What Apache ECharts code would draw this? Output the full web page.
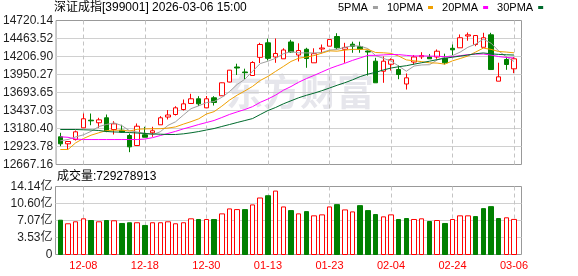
<!DOCTYPE html>
<html><head><meta charset="utf-8">
<script src="https://cdn.jsdelivr.net/npm/echarts@6/dist/echarts.min.js"></script>
<style>html,body{margin:0;padding:0;background:#fff}#c{width:578px;height:276px}</style>
</head><body><div id="c"></div>
<script>
const dates = ['12-03','12-04','12-05','12-08','12-09','12-10','12-11','12-12','12-15','12-16','12-17','12-18','12-19','12-22','12-23','12-24','12-25','12-26','12-29','12-30','12-31',
'01-05','01-06','01-07','01-08','01-09','01-12','01-13','01-14','01-15','01-16','01-19','01-20','01-21','01-22','01-23','01-26','01-27','01-28','01-29','01-30',
'02-02','02-03','02-04','02-05','02-06','02-09','02-10','02-11','02-12','02-13','02-24','02-25','02-26','02-27',
'03-02','03-03','03-04','03-05','03-06'];
const opens  = [13062,12962,13023,13190,13299,13262,13333,13166,13156,13081,12938,13091,13119,13233,13344,13380,13451,13537,13604,13475,13618,13647,13843,14057,13986,13936,14195,14402,14200,14174,14414,14228,14310,14117,14314,14354,14492,14310,14382,14349,14285,14140,13997,14097,14022,13815,14128,14203,14200,14200,14181,14324,14331,14499,14378,14338,14516,13855,14164,14031];
const closes = [12962,12995,13133,13319,13290,13304,13142,13247,13128,12919,13213,13056,13148,13333,13373,13475,13532,13604,13532,13604,13551,13832,14012,14043,13976,14121,14378,14181,14250,14300,14271,14292,14178,14247,14328,14449,14331,14336,14352,14311,14271,13832,14140,14160,13950,13903,14200,14221,14174,14282,14117,14302,14474,14516,14506,14474,14021,13917,14093,14174];
const lows   = [12928,12881,13009,13190,13227,13190,13128,13095,13119,12843,12938,13056,13062,13233,13309,13366,13437,13530,13501,13475,13508,13644,13840,13943,13886,13936,14114,14150,14117,14174,14260,14136,14046,14117,14250,14354,14317,14117,14260,14260,13935,13832,13832,14007,13883,13736,14093,14171,14174,14174,14093,14228,14331,14432,14354,14338,14014,13855,14017,13969];
const highs  = [13119,12998,13152,13394,13394,13333,13380,13284,13233,13109,13252,13205,13205,13356,13444,13498,13594,13675,13641,13644,13641,13836,14015,14104,14033,14140,14402,14461,14464,14324,14445,14395,14331,14324,14378,14449,14539,14402,14418,14418,14292,14188,14207,14181,14081,13965,14228,14268,14243,14307,14247,14378,14521,14549,14506,14545,14545,14118,14203,14200];
const ma5  = [13005,13024,13060,13090,13139.8,13208.2,13237.6,13260.4,13222.2,13148,13129.8,13112.6,13092.8,13133.8,13224.6,13277,13372.2,13463.4,13503.2,13549.4,13564.6,13624.6,13706.2,13808.4,13882.8,13996.8,14106,14139.8,14181.2,14246,14276,14258.8,14258.2,14257.6,14263.2,14298.8,14306.6,14338.2,14359.2,14355.8,14320.2,14220.4,14181.2,14142.8,14070.6,13997,14070.6,14086.8,14089.6,14156,14198.8,14219.2,14269.8,14338.2,14383,14454.4,14398.2,14286.8,14202.2,14135.8];
const ma10 = [12881,12881,12976,13037,13085,13119,13151,13156,13156,13143.9,13169,13175.1,13176.6,13178,13186.3,13203.4,13242.4,13278.1,13318.5,13387,13420.8,13498.4,13584.8,13655.8,13716.1,13780.7,13865.3,13923,13994.8,14064.4,14136.4,14182.4,14199,14219.4,14254.6,14287.4,14282.7,14298.2,14308.4,14309.5,14309.5,14263.5,14259.7,14251,14213.2,14158.6,14145.5,14134,14116.2,14113.3,14097.9,14144.9,14178.3,14213.9,14269.5,14326.6,14308.7,14278.3,14270.2,14259.4];
const ma20 = [13062,13055,13030,13023,13023,13023,13023,13023,13023,13023,13023,13030,13050,13080,13110,13140,13175,13205,13237,13265.5,13294.9,13336.8,13380.7,13416.9,13451.2,13492.1,13553.9,13600.6,13656.7,13725.7,13778.6,13840.4,13891.9,13937.6,13985.4,14034.1,14074,14110.6,14151.6,14187,14223,14223,14229.4,14235.2,14233.9,14223,14214.1,14216.1,14212.3,14211.4,14203.7,14204.2,14219,14232.5,14241.4,14242.6,14227.1,14206.2,14193.2,14186.4];
const ma30 = [13166,13166,13166,13162,13159,13152,13138,13131,13128,13123,13116,13109,13102,13099,13095,13095,13104,13119,13137,13159,13180,13209,13237,13266,13294,13322,13380,13437,13480,13531.8,13575.4,13618.6,13653.5,13684.4,13719,13757.2,13796.8,13833.1,13873.9,13920.3,13955.6,13981.4,14014.5,14042.1,14061.3,14075.6,14097.8,14118.4,14139.8,14162.4,14181.3,14196.9,14212.3,14228.1,14245.8,14257.5,14245.6,14236.8,14231.6,14227.4];
const volumes = [713000000,639000000,680000000,742000000,707000000,680000000,707000000,701000000,645000000,660000000,660000000,604000000,660000000,660000000,680000000,639000000,660000000,742000000,728000000,728000000,728000000,845000000,948000000,934000000,934000000,1031000000,1175000000,1222000000,1319000000,989000000,913000000,845000000,892000000,804000000,824000000,989000000,1037000000,927000000,886000000,1016000000,913000000,831000000,783000000,824000000,728000000,748000000,728000000,742000000,686000000,707000000,645000000,728000000,804000000,804000000,789000000,954000000,995000000,748000000,763000000,729278913];
const priceTicks = ['12667.16','12923.78','13180.40','13437.03','13693.65','13950.27','14206.90','14463.52','14720.14'];
const volTicks = ['0','3.53亿','7.07亿','10.60亿','14.14亿'];
const dateLabels = ['12-08','12-18','12-30','01-13','01-23','02-04','02-24','03-06'];
const priceMin = 12667.16, priceMax = 14720.14, volMax = 1414000000;

const RED = '#ff0000', GREEN = '#008000';
const latin = "'Liberation Sans','Noto Sans CJK SC'";
const narrow = "'Liberation Sans Narrow','Liberation Sans'";

const candleData = dates.map((d, i) => [opens[i], closes[i], lows[i], highs[i]]);
// volume columns drawn as pixel-snapped boxes from 0 to the volume (hollow red when close rose, green when it fell)
const volData = volumes.map((v, i) => {
  const up = i === 0 ? closes[i] >= opens[i] : closes[i] >= closes[i - 1];
  return up ? [0, v, 0, v] : [v, 0, 0, v];
});
const dashed = { show: true, interval: (i, v) => dateLabels.includes(v), alignWithLabel: true,
  lineStyle: { color: '#c4c4c4', type: [4, 3], width: 1 } };
const boxStyle = { color: '#fff', color0: GREEN, borderColor: RED, borderColor0: GREEN, borderWidth: 1 };

const chart = echarts.init(document.getElementById('c'), null, { renderer: 'canvas' });
chart.setOption({
  animation: false,
  backgroundColor: '#fff',
  title: [
    { text: '深证成指[399001] 2026-03-06 15:00', left: 54, top: 2, padding: 0,
      textStyle: { fontSize: 12, fontWeight: 'normal', color: '#000', fontFamily: latin } },
    { text: '成交量:' + volumes[volumes.length - 1], left: 57, top: 171, padding: 0,
      textStyle: { fontSize: 12, fontWeight: 'normal', color: '#000', fontFamily: latin } }
  ],
  legend: {
    left: 338, top: 2, padding: 0, itemWidth: 5, itemHeight: 3, itemGap: 9, align: 'right', icon: 'rect',
    textStyle: { fontSize: 11, color: '#000', fontFamily: narrow },
    data: ['5PMA', '10PMA', '20PMA', '30PMA']
  },
  graphic: [{ type: 'text', left: 226, top: 73, z: 0, silent: true,
    style: { text: '东方财富', font: 'bold 37px "Noto Sans CJK SC"', fill: '#e6e6ec' } }],
  grid: [
    { left: 55.5, top: 20.5, width: 466, height: 144, show: true, borderColor: '#999', borderWidth: 1, backgroundColor: 'transparent' },
    { left: 56.46, top: 20.5, width: 461.4, height: 144 },
    { left: 55.5, top: 186.5, width: 466, height: 68, show: true, borderColor: '#999', borderWidth: 1, backgroundColor: 'transparent' },
    { left: 56.46, top: 186.5, width: 461.4, height: 68 }
  ],
  xAxis: [
    { gridIndex: 0, type: 'value', min: 0, max: 1, show: false },
    { gridIndex: 1, type: 'category', data: dates, boundaryGap: true,
      axisLine: { show: false }, axisTick: { show: false }, axisLabel: { show: false }, splitLine: dashed },
    { gridIndex: 2, type: 'value', min: 0, max: 1, show: false },
    { gridIndex: 3, type: 'category', data: dates, boundaryGap: true,
      axisLine: { show: false }, axisTick: { show: false }, splitLine: dashed,
      axisLabel: { interval: (i, v) => dateLabels.includes(v), color: RED, fontSize: 11, fontFamily: narrow, margin: 6 } }
  ],
  yAxis: [
    { gridIndex: 0, type: 'value', min: 0, max: 8, interval: 1,
      axisLine: { show: false }, axisTick: { show: false },
      splitLine: { show: true, showMinLine: false, showMaxLine: false, lineStyle: { color: '#d0d0d0', width: 1 } },
      axisLabel: { formatter: v => priceTicks[Math.round(v)], color: '#1e1e1e', fontSize: 12, fontFamily: latin, margin: 3 } },
    { gridIndex: 1, type: 'value', min: priceMin, max: priceMax, show: false, scale: true },
    { gridIndex: 2, type: 'value', min: 0, max: 4, interval: 1,
      axisLine: { show: false }, axisTick: { show: false },
      splitLine: { show: true, showMinLine: false, showMaxLine: false, lineStyle: { color: '#d0d0d0', width: 1 } },
      axisLabel: { formatter: v => volTicks[Math.round(v)], color: '#1e1e1e', fontSize: 12, fontFamily: latin, margin: 3 } },
    { gridIndex: 3, type: 'value', min: 0, max: volMax, show: false }
  ],
  series: [
    { type: 'candlestick', xAxisIndex: 1, yAxisIndex: 1, data: candleData, barWidth: 5, itemStyle: boxStyle },
    { name: '5PMA', type: 'line', xAxisIndex: 1, yAxisIndex: 1, data: ma5, symbol: 'none', color: '#a0a0a0', lineStyle: { width: 1, color: '#a0a0a0' } },
    { name: '10PMA', type: 'line', xAxisIndex: 1, yAxisIndex: 1, data: ma10, symbol: 'none', color: '#f0a000', lineStyle: { width: 1, color: '#f0a000' } },
    { name: '20PMA', type: 'line', xAxisIndex: 1, yAxisIndex: 1, data: ma20, symbol: 'none', color: '#ff00ff', lineStyle: { width: 1, color: '#ff00ff' } },
    { name: '30PMA', type: 'line', xAxisIndex: 1, yAxisIndex: 1, data: ma30, symbol: 'none', color: '#006b2d', lineStyle: { width: 1, color: '#006b2d' } },
    { name: '成交量', type: 'candlestick', xAxisIndex: 3, yAxisIndex: 3, data: volData, barWidth: 5, itemStyle: boxStyle }
  ]
});
</script></body></html>
